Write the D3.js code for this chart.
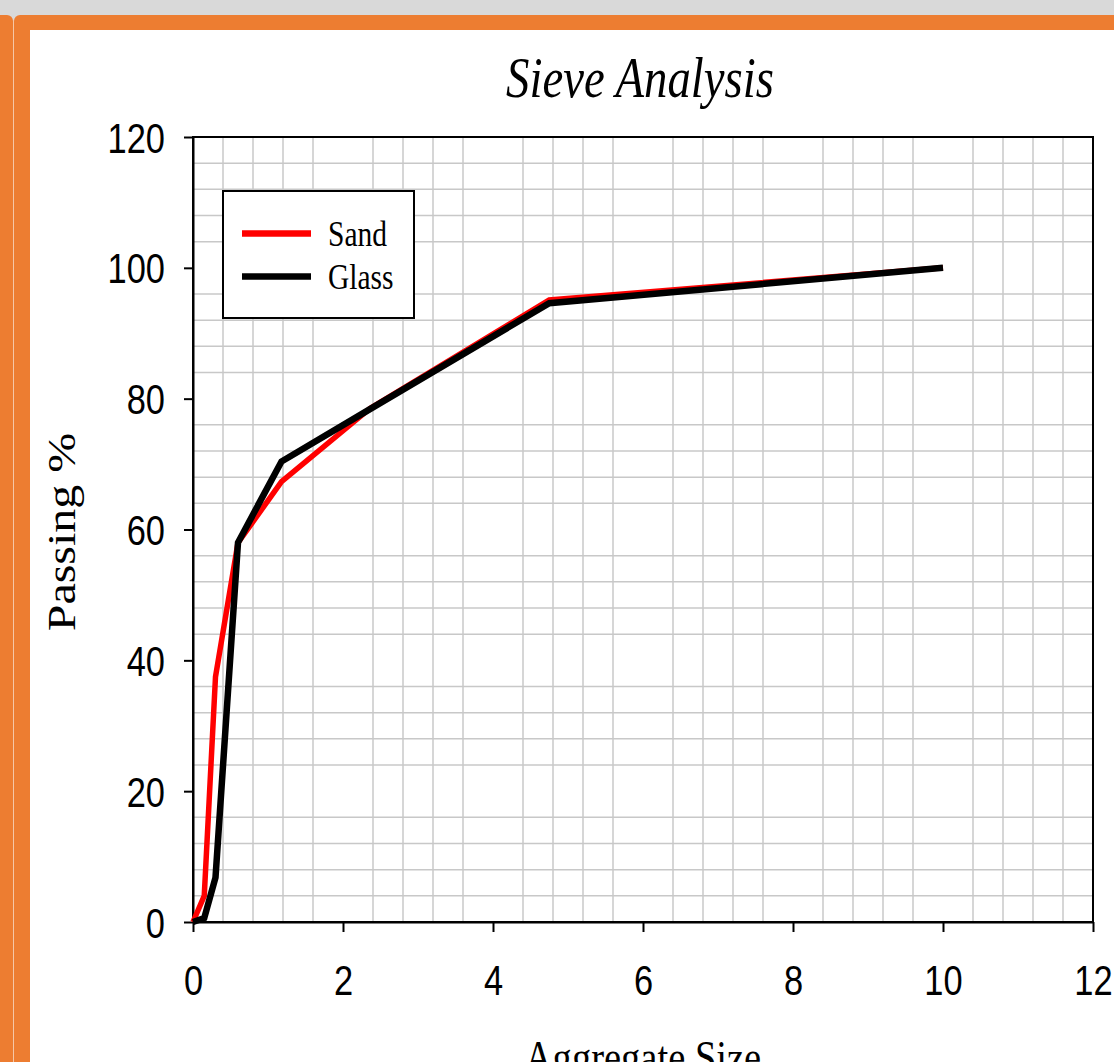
<!DOCTYPE html>
<html>
<head>
<meta charset="utf-8">
<script src="https://cdn.jsdelivr.net/npm/d3@7"></script>
<style>
  html, body { margin: 0; padding: 0; background: #ffffff; }
  svg { display: block; }
</style>
</head>
<body>
<svg id="chart" width="1114" height="1062"></svg>
<script>
// ---- data ----
const sizes = [0, 0.15, 0.3, 0.6, 1.18, 2.36, 4.75, 10];
const sand  = [0, 4, 37.5, 58, 67.3, 78.5, 95.1, 100];
const glass = [0, 0.6, 6.8, 58, 70.4, 78.4, 94.6, 100];
const seriesNames = ["Sand", "Glass"];
const xTicks = [0, 2, 4, 6, 8, 10, 12];
const yTicks = [0, 20, 40, 60, 80, 100, 120];
const titleText = "Sieve Analysis";
const xLabel = "Aggregate Size";
const yLabel = "Passing %";

// ---- layout ----
const W = 1114, H = 1062;
const plot = { left: 193, right: 1093, top: 137, bottom: 922 };
const SX = 0.82; // horizontal text compression of the original picture
const svg = d3.select("#chart");

// frame decoration
svg.append("rect").attr("x", 0).attr("y", 0).attr("width", W).attr("height", H).attr("fill", "#ffffff");
svg.append("rect").attr("x", 0).attr("y", 0).attr("width", W).attr("height", 22).attr("fill", "#d9d9d9");
svg.append("rect").attr("x", -20).attr("y", 15).attr("width", 33).attr("height", H + 40).attr("rx", 6).attr("fill", "#ed7d31");
svg.append("rect").attr("x", 13).attr("y", 20).attr("width", 1).attr("height", H).attr("fill", "#f6c7a6");
svg.append("rect").attr("x", 14).attr("y", 15).attr("width", W + 40).attr("height", H + 40).attr("rx", 6).attr("fill", "#ed7d31");
svg.append("rect").attr("x", 30).attr("y", 30).attr("width", W).attr("height", H).attr("fill", "#ffffff");

// scales
const x = d3.scaleLinear().domain([0, 12]).range([plot.left, plot.right]);
const y = d3.scaleLinear().domain([0, 120]).range([plot.bottom, plot.top]);

// minor gridlines (every 0.4 on x, every 4 on y, majors not drawn)
const xMinor = d3.range(1, 30).filter(i => i % 5 !== 0).map(i => i * 0.4);
const yMinor = d3.range(1, 30).filter(i => i % 5 !== 0).map(i => i * 4);
const grid = svg.append("g").attr("stroke", "#c8c8c8").attr("stroke-width", 1.5);
grid.selectAll("line.v").data(xMinor).join("line")
  .attr("x1", d => x(d)).attr("x2", d => x(d))
  .attr("y1", plot.top).attr("y2", plot.bottom);
grid.selectAll("line.h").data(yMinor).join("line")
  .attr("y1", d => y(d)).attr("y2", d => y(d))
  .attr("x1", plot.left).attr("x2", plot.right);

// plot border (top & right)
svg.append("rect")
  .attr("x", plot.left).attr("y", plot.top)
  .attr("width", plot.right - plot.left).attr("height", plot.bottom - plot.top)
  .attr("fill", "none").attr("stroke", "#000").attr("stroke-width", 2);

// axes
const xAxis = svg.append("g").attr("transform", `translate(0,${plot.bottom})`)
  .call(d3.axisBottom(x).tickValues(xTicks).tickSize(10).tickSizeOuter(0).tickFormat(d3.format("d")));
const yAxis = svg.append("g").attr("transform", `translate(${plot.left},0)`)
  .call(d3.axisLeft(y).tickValues(yTicks).tickSize(9).tickSizeOuter(0).tickFormat(d3.format("d")));
[xAxis, yAxis].forEach(a => {
  a.select(".domain").attr("stroke", "#000").attr("stroke-width", 2);
  a.selectAll(".tick line").attr("stroke", "#000").attr("stroke-width", 2);
  a.selectAll("text").attr("fill", "#000")
    .attr("font-family", "'Liberation Sans', Arial, sans-serif").attr("font-size", 42);
});
xAxis.selectAll("text").attr("y", 0).attr("dy", null).attr("x", 0)
  .attr("text-anchor", "middle")
  .attr("transform", `translate(0,73) scale(${SX},1)`);
yAxis.selectAll("text").attr("x", 0).attr("dy", null)
  .attr("text-anchor", "end")
  .attr("transform", `translate(-28,15) scale(${SX},1)`);

// series lines
const lineGen = d3.line().x(d => x(d[0])).y(d => y(d[1]));
const series = [
  { name: seriesNames[0], values: sand, color: "#ff0000", width: 5.5 },
  { name: seriesNames[1], values: glass, color: "#000000", width: 6.5 }
];
svg.append("g").selectAll("path").data(series).join("path")
  .attr("d", s => lineGen(sizes.map((v, i) => [v, s.values[i]])))
  .attr("fill", "none")
  .attr("stroke", s => s.color)
  .attr("stroke-width", s => s.width)
  .attr("stroke-linejoin", "miter");

// legend
const lg = svg.append("g");
lg.append("rect").attr("x", 223).attr("y", 191).attr("width", 191).attr("height", 127)
  .attr("fill", "#fff").attr("stroke", "#000").attr("stroke-width", 2);
series.forEach((s, i) => {
  const cy = 233.5 + i * 43;
  lg.append("line").attr("x1", 242).attr("x2", 311).attr("y1", cy).attr("y2", cy)
    .attr("stroke", s.color).attr("stroke-width", 6.5);
  lg.append("text").attr("transform", `translate(328,${cy + 12}) scale(${SX},1)`)
    .attr("font-family", "'Liberation Serif', 'Times New Roman', serif").attr("font-size", 36)
    .attr("fill", "#000").text(s.name);
});

// title and axis labels
svg.append("text").attr("transform", `translate(640,97) scale(${SX},1)`)
  .attr("text-anchor", "middle").attr("font-family", "'Liberation Serif', 'Times New Roman', serif")
  .attr("font-style", "italic").attr("font-size", 57).attr("fill", "#000").text(titleText);
svg.append("text").attr("transform", `translate(643,1073) scale(${SX},1)`)
  .attr("text-anchor", "middle").attr("font-family", "'Liberation Serif', 'Times New Roman', serif")
  .attr("font-size", 47).attr("fill", "#000").text(xLabel);
svg.append("text").attr("transform", `translate(75,532) scale(${SX},1) rotate(-90)`)
  .attr("text-anchor", "middle").attr("font-family", "'Liberation Serif', 'Times New Roman', serif")
  .attr("font-size", 48).attr("fill", "#000").text(yLabel);
</script>
</body>
</html>
